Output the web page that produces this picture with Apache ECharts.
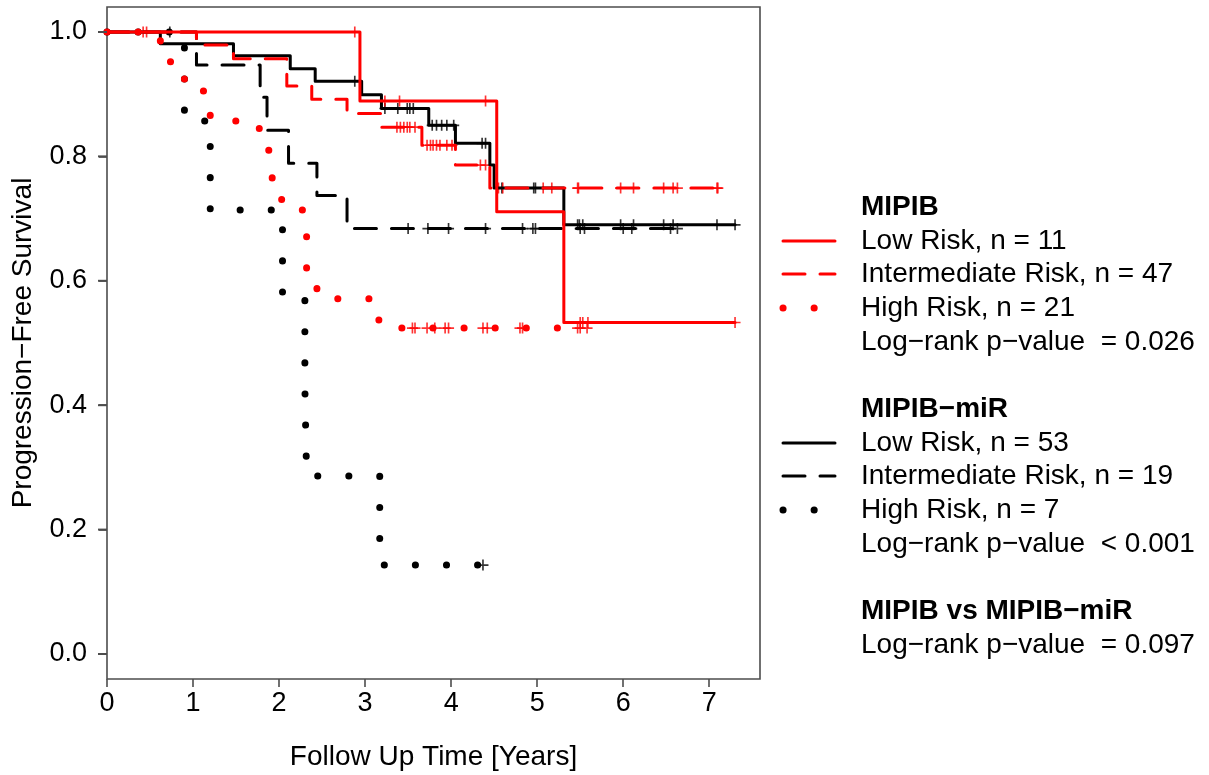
<!DOCTYPE html>
<html>
<head>
<meta charset="utf-8">
<title>Progression-Free Survival</title>
<script src="https://cdn.jsdelivr.net/npm/echarts@6/dist/echarts.min.js"></script>
<style>
  html, body { margin: 0; padding: 0; background: #fff; }
  #main { width: 1209px; height: 775px; }
</style>
</head>
<body>
<div id="main"></div>
<script>
// Kaplan-Meier curves
// *Time = event times (years), *Surv = survival after that event, *Cens = censoring times

// MIPIB (red)
var mipibLowTime = [2.94, 4.53, 5.31];
var mipibLowSurv = [0.889, 0.711, 0.533];
var mipibLowCens = [0.42, 2.88, 3.23, 3.40, 4.40, 5.50, 5.53, 5.59, 7.30];

var mipibIntTime = [1.04, 1.47, 2.09, 2.38, 2.79, 3.18, 3.66, 4.05, 4.45];
var mipibIntSurv = [0.979, 0.957, 0.913, 0.892, 0.869, 0.847, 0.818, 0.786, 0.749];
var mipibIntCens = [0.46, 3.37, 3.41, 3.45, 3.49, 3.52, 3.58, 3.72, 3.76, 3.79, 3.83, 3.87, 3.95, 4.01,
    4.34, 4.40, 4.55, 4.60, 5.07, 5.17, 5.47, 5.48, 5.97, 6.12, 6.47, 6.58, 6.63, 7.09, 7.10];

var mipibHighTime = [0.62, 0.90, 1.20, 1.77, 1.92, 2.03, 2.32, 2.44, 3.16];
var mipibHighSurv = [0.952, 0.905, 0.857, 0.810, 0.762, 0.714, 0.619, 0.571, 0.524];
var mipibHighCens = [3.55, 3.58, 3.72, 3.81, 3.93, 3.97, 4.37, 4.42, 4.80, 4.83, 5.47, 5.50, 5.58];

// MIPIB-miR (black)
var mirLowTime = [0.62, 1.47, 2.13, 2.42, 2.96, 3.19, 3.74, 4.05, 4.45, 4.50, 5.31];
var mirLowSurv = [0.981, 0.962, 0.941, 0.921, 0.899, 0.877, 0.850, 0.821, 0.786, 0.749, 0.690];
var mirLowCens = [2.88, 3.23, 3.38, 3.49, 3.52, 3.56, 3.78, 3.83, 3.89, 3.95, 4.03, 4.36, 4.40,
    4.59, 4.96, 4.98, 5.47, 5.49, 5.53, 5.97, 6.12, 6.47, 6.58, 7.09, 7.30];

var mirIntTime = [1.04, 1.78, 1.86, 2.11, 2.44, 2.79];
var mirIntSurv = [0.947, 0.895, 0.842, 0.789, 0.737, 0.684];
var mirIntCens = [0.73, 3.50, 3.73, 3.97, 4.40, 4.83, 4.95, 4.98, 5.50, 5.55, 6.00, 6.10, 6.55, 6.63];

var mirHighTime = [0.90, 1.20, 2.04, 2.30, 2.32, 3.17];
var mirHighSurv = [0.857, 0.714, 0.571, 0.429, 0.286, 0.143];
var mirHighCens = [4.37];

// tick positions
var xTicks = [0, 1, 2, 3, 4, 5, 6, 7];
var yTicks = [0, 0.2, 0.4, 0.6, 0.8, 1.0];

var FONT = '"Liberation Sans", Arial, sans-serif';
var RED = '#ff0000';
var BLACK = '#000000';
var AXIS = '#4d4d4d';
var DASH = [22, 15];
var DOT = [0.1, 31];
var PLUS = 'path://M0,4.25H10V5.75H0Z M4.25,0H5.75V10H4.25Z';

// survival value of a step curve at time t
function survAt(times, surv, t) {
    var s = 1;
    for (var i = 0; i < times.length; i++) {
        if (times[i] <= t) s = surv[i];
    }
    return s;
}

// line series + censor mark series for one curve
function kmSeries(name, color, dash, width, times, surv, cens) {
    var end = Math.max.apply(null, cens.concat(times));
    var pts = [[0, 1]];
    times.forEach((t, i) => pts.push([t, surv[i]]));
    pts.push([end, surv[surv.length - 1]]);

    return [{
        name: name,
        type: 'line',
        step: 'end',
        data: pts,
        showSymbol: false,
        silent: true,
        clip: false,
        lineStyle: { color: color, width: width, type: dash, cap: 'round', join: 'round' }
    }, {
        name: name + ' censored',
        type: 'scatter',
        data: cens.map(t => [t, survAt(times, surv, t)]),
        symbol: PLUS,
        symbolSize: 11,
        silent: true,
        clip: false,
        itemStyle: { color: color }
    }];
}

var series = [].concat(
    kmSeries('MIPIB-miR High', BLACK, DOT, 7, mirHighTime, mirHighSurv, mirHighCens),
    kmSeries('MIPIB-miR Intermediate', BLACK, DASH, 3, mirIntTime, mirIntSurv, mirIntCens),
    kmSeries('MIPIB-miR Low', BLACK, 'solid', 3, mirLowTime, mirLowSurv, mirLowCens),
    kmSeries('MIPIB High', RED, DOT, 7, mipibHighTime, mipibHighSurv, mipibHighCens),
    kmSeries('MIPIB Intermediate', RED, DASH, 3, mipibIntTime, mipibIntSurv, mipibIntCens),
    kmSeries('MIPIB Low', RED, 'solid', 3, mipibLowTime, mipibLowSurv, mipibLowCens)
);

// legend drawn as graphic (headings + sample lines)
var LX1 = 783, LX2 = 835, TX = 861;
function legendText(txt, y, bold) {
    return {
        type: 'text', x: TX, y: y, silent: true,
        style: { text: txt, fill: '#000', fontSize: 28, fontFamily: FONT,
                 fontWeight: bold ? 'bold' : 'normal', verticalAlign: 'middle' }
    };
}
function legendLine(y, color, dash, width) {
    return {
        type: 'line', silent: true,
        shape: { x1: LX1, y1: y, x2: LX2, y2: y },
        style: { stroke: color, lineWidth: width, lineDash: dash === 'solid' ? null : dash, lineCap: 'round' }
    };
}

var graphics = [
    // plot frame (the axes stop at 0 and 1, the frame has 4% padding like R)
    { type: 'rect', silent: true, z: -1,
      shape: { x: 107, y: 7, width: 653, height: 672 },
      style: { fill: null, stroke: AXIS, lineWidth: 1.6 } },
    legendText('MIPIB', 207, true),
    legendLine(241, RED, 'solid', 3), legendText('Low Risk, n = 11', 241),
    legendLine(274, RED, DASH, 3), legendText('Intermediate Risk, n = 47', 274),
    legendLine(308, RED, DOT, 7), legendText('High Risk, n = 21', 308),
    legendText('Log\u2212rank p\u2212value  = 0.026', 342),
    legendText('MIPIB\u2212miR', 409, true),
    legendLine(443, BLACK, 'solid', 3), legendText('Low Risk, n = 53', 443),
    legendLine(476, BLACK, DASH, 3), legendText('Intermediate Risk, n = 19', 476),
    legendLine(510, BLACK, DOT, 7), legendText('High Risk, n = 7', 510),
    legendText('Log\u2212rank p\u2212value  < 0.001', 544),
    legendText('MIPIB vs MIPIB\u2212miR', 611, true),
    legendText('Log\u2212rank p\u2212value  = 0.097', 645)
];

var chart = echarts.init(document.getElementById('main'));
chart.setOption({
    animation: false,
    backgroundColor: '#fff',
    grid: {
        left: 107, right: 449, top: 32, bottom: 121,
        outerBoundsMode: 'none',
        show: false
    },
    xAxis: {
        type: 'value', min: 0, max: 7.59,
        offset: 25,
        name: 'Follow Up Time [Years]', nameLocation: 'middle', nameGap: 64,
        nameTextStyle: { fontSize: 28, color: '#000', fontFamily: FONT },
        axisLine: { show: false, onZero: false },
        splitLine: { show: false },
        axisTick: { show: true, inside: false, length: 8, customValues: xTicks,
                    lineStyle: { color: AXIS, width: 1.6 } },
        axisLabel: { customValues: xTicks, margin: 11, fontSize: 27, color: '#000', fontFamily: FONT,
                     formatter: v => String(v) }
    },
    yAxis: {
        type: 'value', min: 0, max: 1, interval: 0.2,
        name: 'Progression\u2212Free Survival', nameLocation: 'middle', nameGap: 70, nameRotate: 90,
        nameTextStyle: { fontSize: 28, color: '#000', fontFamily: FONT },
        axisLine: { show: false, onZero: false },
        splitLine: { show: false },
        axisTick: { show: true, inside: false, length: 8,
                    lineStyle: { color: AXIS, width: 1.6 } },
        axisLabel: { margin: 20, fontSize: 27, color: '#000', fontFamily: FONT,
                     formatter: v => v.toFixed(1) }
    },
    series: series
});

// y tick marks placed with the chart's own scale
var yTickMarks = yTicks.map(v => {
    var p = chart.convertToPixel({ gridIndex: 0 }, [0, v]);
    return {
        type: 'line', silent: true, z: 10,
        shape: { x1: p[0] - 9, y1: p[1], x2: p[0], y2: p[1] },
        style: { stroke: AXIS, lineWidth: 2 }
    };
});
chart.setOption({ graphic: graphics.concat(yTickMarks) });
</script>
</body>
</html>
